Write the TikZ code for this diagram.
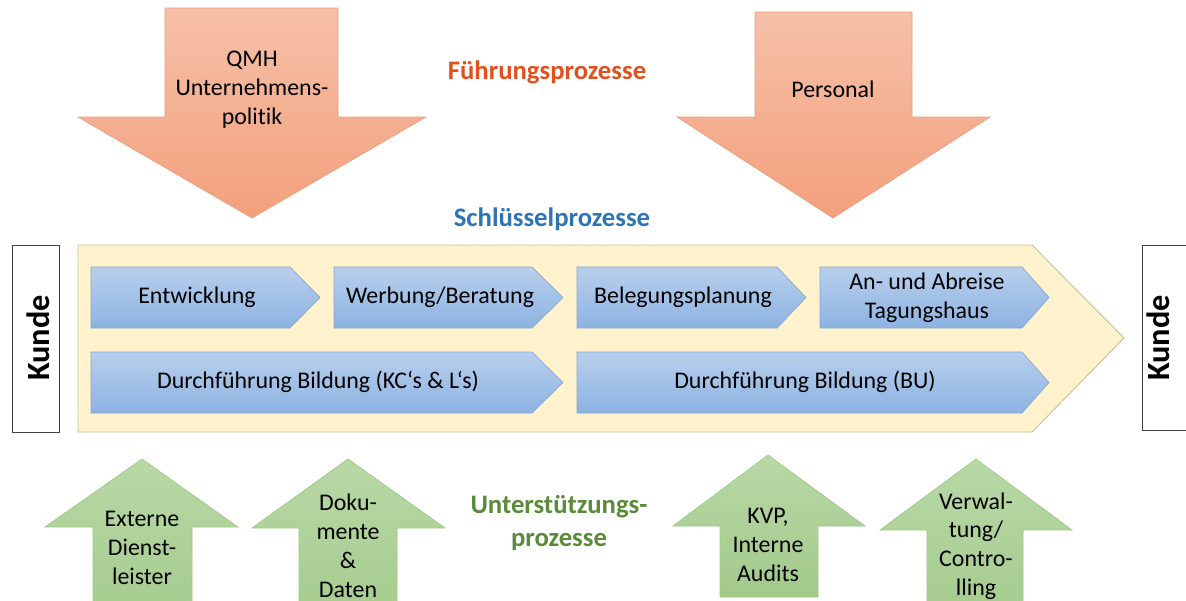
\documentclass[tikz,border=0pt]{standalone}
\usepackage{fontspec}
\setmainfont{Carlito}[Ligatures=NoCommon]
\definecolor{fuehrungoben}{HTML}{F6C0A8}
\definecolor{fuehrungunten}{HTML}{F3A07C}
\definecolor{fuehrungrand}{HTML}{E8A080}
\definecolor{schluesseloben}{HTML}{B8CFEC}
\definecolor{schluesselunten}{HTML}{8DB3E2}
\definecolor{schluesselrand}{HTML}{86A8D6}
\definecolor{stuetzoben}{HTML}{B8D8A6}
\definecolor{stuetzunten}{HTML}{A2CA8A}
\definecolor{stuetzrand}{HTML}{A0C888}
\definecolor{rahmenfill}{HTML}{FFF2CC}
\definecolor{rahmenrand}{HTML}{C4BD93}
\definecolor{fuehrungtext}{HTML}{E2501E}
\definecolor{schluesseltext}{HTML}{2E75B6}
\definecolor{stuetztext}{HTML}{5A8A3A}
\begin{document}
\begin{tikzpicture}[x=0.025cm, y=-0.025cm,
		fuehrung/.style={draw=fuehrungrand, top color=fuehrungoben, bottom color=fuehrungunten, line width=0.5pt},
		schluessel/.style={draw=schluesselrand, top color=schluesseloben, bottom color=schluesselunten, line width=0.5pt},
		stuetz/.style={draw=stuetzrand, top color=stuetzoben, bottom color=stuetzunten, line width=0.5pt},
		rahmen/.style={draw=rahmenrand, fill=rahmenfill, line width=0.6pt},
		kundebox/.style={draw=black!75, fill=white, line width=0.6pt},
		txt/.style={align=center, font=\fontsize{17}{20.5}\selectfont},
		titel/.style={align=center, font=\bfseries\fontsize{19}{23.5}\selectfont},
		kunde/.style={rotate=90, font=\bfseries\fontsize{23}{26}\selectfont}]
		\useasboundingbox (0,0) rectangle (1186,600);
		\clip (0,0) rectangle (1186,600);

		\begin{scope}
			\draw[fuehrung] (165,8) -- (338,8) -- (338,117) -- (426,117) -- (252,218)
			-- (78,117) -- (165,117) -- cycle;
			\draw[fuehrung] (755,12) -- (912,12) -- (912,117) -- (990,117) -- (833,218)
			-- (677,117) -- (755,117) -- cycle;
			\node[txt, text depth=0pt] (qmh) at (252,88) {QMH\\Unternehmens-\\politik};
			\node[txt] (personal) at (833,89) {Personal};
			\node[titel, text=fuehrungtext] (fuehrung) at (547,72) {Führungsprozesse};
		\end{scope}

		\begin{scope}
			\node[titel, text=schluesseltext] (schluessel) at (552,219) {Schlüsselprozesse};
			\draw[rahmen] (78,245) -- (1032,245) -- (1124,338) -- (1032,432) -- (78,432) -- cycle;
			\draw[schluessel] (91,267) -- (290,267) -- (320,297.5) -- (290,328) -- (91,328) -- cycle;
			\draw[schluessel] (334,267) -- (532,267) -- (563,297.5) -- (532,328) -- (334,328) -- cycle;
			\draw[schluessel] (577,267) -- (777,267) -- (806,297.5) -- (777,328) -- (577,328) -- cycle;
			\draw[schluessel] (820,267) -- (1022,267) -- (1049,297.5) -- (1022,328) -- (820,328) -- cycle;
			\draw[schluessel] (91,352) -- (532,352) -- (563,382.5) -- (532,413) -- (91,413) -- cycle;
			\draw[schluessel] (577,352) -- (1022,352) -- (1049,382.5) -- (1022,413) -- (577,413) -- cycle;
			\node[txt] (entwicklung) at (197,297) {Entwicklung};
			\node[txt] (werbung) at (440,297) {Werbung/Beratung};
			\node[txt] (belegung) at (683,297) {Belegungsplanung};
			\node[txt] (anreise) at (927,298) {An- und Abreise\\Tagungshaus};
			\node[txt] (bildungkl) at (318,382) {Durchführung Bildung (KC‘s \& L‘s)};
			\node[txt] (bildungbu) at (805,382) {Durchführung Bildung (BU)};
		\end{scope}

		\begin{scope}
			\draw[kundebox] (12,245) rectangle (59,432);
			\draw[kundebox] (1142,245) rectangle (1200,430);
			\node[kunde] (kundel) at (38,338) {Kunde};
			\node[kunde] (kunder) at (1158,338) {Kunde};
		\end{scope}

		\begin{scope}
			\draw[stuetz] (93,640) -- (93,527) -- (45,527) -- (142,459) -- (238,527)
			-- (192,527) -- (192,640) -- cycle;
			\draw[stuetz] (299,640) -- (299,528) -- (252,528) -- (348,459) -- (445,528)
			-- (397,528) -- (397,640) -- cycle;
			\draw[stuetz] (720,597) -- (720,526) -- (673,526) -- (768,455) -- (865,526)
			-- (818,526) -- (818,597) -- cycle;
			\draw[stuetz] (927,640) -- (927,530) -- (880,530) -- (976,459) -- (1072,530)
			-- (1023,530) -- (1023,640) -- cycle;
			\node[txt] (extern) at (142,548) {Externe\\Dienst-\\leister};
			\node[txt] (dokumente) at (348,546) {Doku-\\mente\\\&\\Daten};
			\node[txt] (kvp) at (768,545) {KVP,\\Interne\\Audits};
			\node[txt] (verwaltung) at (976,546) {Verwal-\\tung/\\Contro-\\lling};
			\node[titel, text=stuetztext] (stuetz) at (559,523) {Unterstützungs-\\prozesse};
		\end{scope}
	\end{tikzpicture}
\end{document}
